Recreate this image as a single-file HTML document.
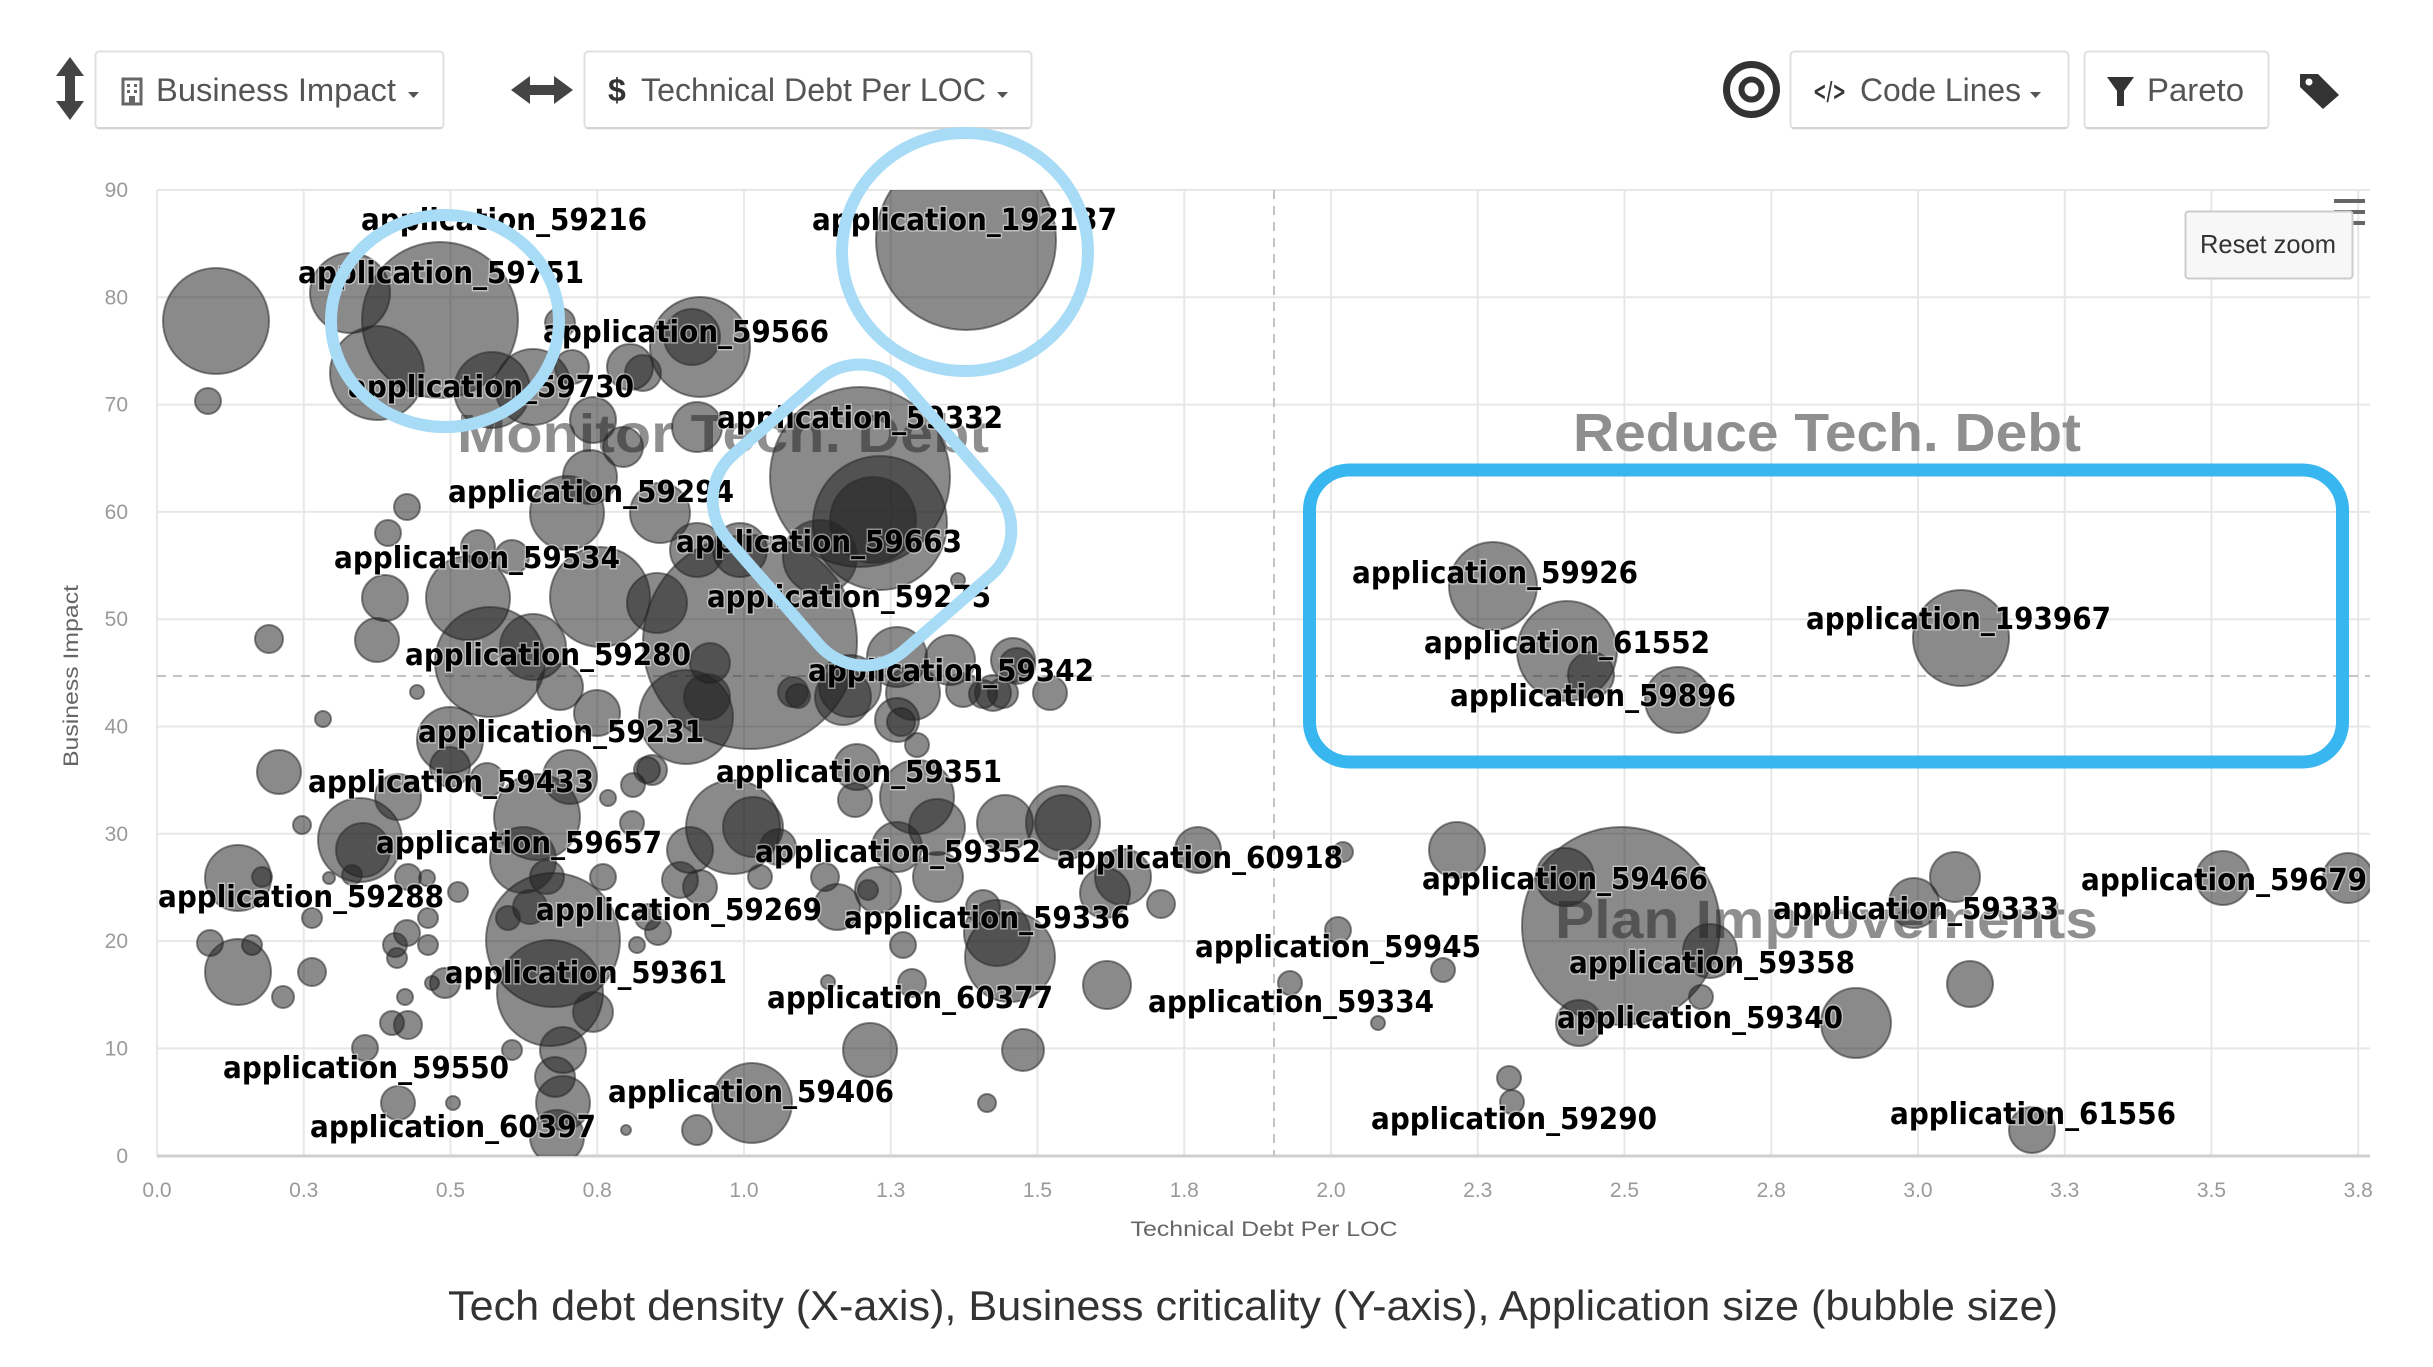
<!DOCTYPE html>
<html>
<head>
<meta charset="utf-8">
<style>
html,body{margin:0;padding:0;background:#fff;}
svg{display:block;}
.lbl{font-family:"DejaVu Sans","Liberation Sans",sans-serif;font-weight:bold;font-size:30px;fill:#000;stroke:#fff;stroke-width:3px;stroke-opacity:0.45;paint-order:stroke;}
.tick{font-family:"Liberation Sans Narrow","Liberation Sans",sans-serif;font-size:21px;fill:#9a9a9a;}
.btn{fill:#fff;stroke:#e0e0e0;stroke-width:2;}
.btxt{font-family:"Liberation Sans",sans-serif;font-size:32px;fill:#555;}
.wm{font-family:"Liberation Sans",sans-serif;font-weight:bold;font-size:54px;fill:#8f8f8f;}
</style>
</head>
<body>
<svg width="2433" height="1367" viewBox="0 0 2433 1367" xmlns="http://www.w3.org/2000/svg">
<rect x="0" y="0" width="2433" height="1367" fill="#fff"/>

<!-- ===== Toolbar ===== -->
<g fill="#444">
  <rect x="65" y="70" width="10" height="38"/>
  <polygon points="70,57 56,76 84,76"/>
  <polygon points="70,120 56,101 84,101"/>
</g>
<rect class="btn" x="95.5" y="51.5" width="348" height="77" rx="4"/>
<line x1="97" y1="128" x2="442" y2="128" stroke="#d4d4d4" stroke-width="2"/>
<g>
  <rect x="123" y="79" width="18" height="25" fill="none" stroke="#666" stroke-width="3"/>
  <rect x="127" y="84" width="3" height="3" fill="#666"/><rect x="134" y="84" width="3" height="3" fill="#666"/>
  <rect x="127" y="90" width="3" height="3" fill="#666"/><rect x="134" y="90" width="3" height="3" fill="#666"/>
  <rect x="129" y="96" width="6" height="8" fill="#666"/>
</g>
<text class="btxt" x="156" y="101" textLength="240" lengthAdjust="spacingAndGlyphs">Business Impact</text>
<polygon points="408,92 419,92 413.5,98" fill="#555"/>

<g fill="#444">
  <rect x="526" y="85" width="32" height="10"/>
  <polygon points="511,90 530,76 530,104"/>
  <polygon points="573,90 554,76 554,104"/>
</g>
<rect class="btn" x="584.5" y="51.5" width="447" height="77" rx="4"/>
<line x1="586" y1="128" x2="1030" y2="128" stroke="#d4d4d4" stroke-width="2"/>
<text x="608" y="101" font-family="Liberation Sans,sans-serif" font-weight="bold" font-size="32" fill="#333">$</text>
<text class="btxt" x="641" y="101" textLength="345" lengthAdjust="spacingAndGlyphs">Technical Debt Per LOC</text>
<polygon points="997,92 1008,92 1002.5,98" fill="#555"/>

<circle cx="1751.5" cy="89.5" r="25" fill="none" stroke="#333" stroke-width="7"/>
<circle cx="1751.5" cy="89.5" r="10" fill="none" stroke="#333" stroke-width="6"/>

<rect class="btn" x="1790.5" y="51.5" width="278" height="77" rx="4"/>
<line x1="1792" y1="128" x2="2067" y2="128" stroke="#d4d4d4" stroke-width="2"/>
<text x="1813" y="100" font-family="DejaVu Sans,sans-serif" font-weight="bold" font-size="26" fill="#333" textLength="33" lengthAdjust="spacingAndGlyphs">&lt;/&gt;</text>
<text class="btxt" x="1860" y="101" textLength="161" lengthAdjust="spacingAndGlyphs">Code Lines</text>
<polygon points="2030,92 2041,92 2035.5,98" fill="#555"/>

<rect class="btn" x="2084.5" y="51.5" width="184" height="77" rx="4"/>
<line x1="2086" y1="128" x2="2267" y2="128" stroke="#d4d4d4" stroke-width="2"/>
<polygon points="2107,77 2134,77 2124,91 2124,106 2117,106 2117,91" fill="#333"/>
<text class="btxt" x="2147" y="101" textLength="97" lengthAdjust="spacingAndGlyphs">Pareto</text>

<path d="M2300,74 L2318,74 L2339,95 L2323,109 L2300,87 Z" fill="#333"/>
<circle cx="2309" cy="82" r="3.5" fill="#fff"/>

<!-- ===== Plot grid ===== -->
<g stroke="#e7e7e7" stroke-width="2">
  <line x1="157" y1="190" x2="157" y2="1156"/>
  <line x1="303.75" y1="190" x2="303.75" y2="1156"/>
  <line x1="450.5" y1="190" x2="450.5" y2="1156"/>
  <line x1="597.25" y1="190" x2="597.25" y2="1156"/>
  <line x1="744" y1="190" x2="744" y2="1156"/>
  <line x1="890.75" y1="190" x2="890.75" y2="1156"/>
  <line x1="1037.5" y1="190" x2="1037.5" y2="1156"/>
  <line x1="1184.25" y1="190" x2="1184.25" y2="1156"/>
  <line x1="1331" y1="190" x2="1331" y2="1156"/>
  <line x1="1477.75" y1="190" x2="1477.75" y2="1156"/>
  <line x1="1624.5" y1="190" x2="1624.5" y2="1156"/>
  <line x1="1771.25" y1="190" x2="1771.25" y2="1156"/>
  <line x1="1918" y1="190" x2="1918" y2="1156"/>
  <line x1="2064.75" y1="190" x2="2064.75" y2="1156"/>
  <line x1="2211.5" y1="190" x2="2211.5" y2="1156"/>
  <line x1="2358.25" y1="190" x2="2358.25" y2="1156"/>
  <line x1="157" y1="190" x2="2370" y2="190"/>
  <line x1="157" y1="297.3" x2="2370" y2="297.3"/>
  <line x1="157" y1="404.6" x2="2370" y2="404.6"/>
  <line x1="157" y1="511.9" x2="2370" y2="511.9"/>
  <line x1="157" y1="619.2" x2="2370" y2="619.2"/>
  <line x1="157" y1="726.5" x2="2370" y2="726.5"/>
  <line x1="157" y1="833.8" x2="2370" y2="833.8"/>
  <line x1="157" y1="941.1" x2="2370" y2="941.1"/>
  <line x1="157" y1="1048.4" x2="2370" y2="1048.4"/>
</g>
<line x1="157" y1="1156" x2="2370" y2="1156" stroke="#cfcfcf" stroke-width="3"/>

<g stroke="#c4c4c4" stroke-width="2" stroke-dasharray="9,7">
  <line x1="1274" y1="190" x2="1274" y2="1156"/>
  <line x1="157" y1="676" x2="2370" y2="676"/>
</g>

<g class="tick" text-anchor="middle">
  <text x="157" y="1197">0.0</text>
  <text x="303.75" y="1197">0.3</text>
  <text x="450.5" y="1197">0.5</text>
  <text x="597.25" y="1197">0.8</text>
  <text x="744" y="1197">1.0</text>
  <text x="890.75" y="1197">1.3</text>
  <text x="1037.5" y="1197">1.5</text>
  <text x="1184.25" y="1197">1.8</text>
  <text x="1331" y="1197">2.0</text>
  <text x="1477.75" y="1197">2.3</text>
  <text x="1624.5" y="1197">2.5</text>
  <text x="1771.25" y="1197">2.8</text>
  <text x="1918" y="1197">3.0</text>
  <text x="2064.75" y="1197">3.3</text>
  <text x="2211.5" y="1197">3.5</text>
  <text x="2358.25" y="1197">3.8</text>
</g>
<g class="tick" text-anchor="end">
  <text x="128" y="1163">0</text>
  <text x="128" y="1055.4">10</text>
  <text x="128" y="948.1">20</text>
  <text x="128" y="840.8">30</text>
  <text x="128" y="733.5">40</text>
  <text x="128" y="626.2">50</text>
  <text x="128" y="518.9">60</text>
  <text x="128" y="411.6">70</text>
  <text x="128" y="304.3">80</text>
  <text x="128" y="197">90</text>
</g>
<text transform="translate(78,676) rotate(-90)" text-anchor="middle" font-family="Liberation Sans,sans-serif" font-size="21" fill="#666" textLength="182" lengthAdjust="spacingAndGlyphs">Business Impact</text>
<text x="1264" y="1236" text-anchor="middle" font-family="Liberation Sans,sans-serif" font-size="21" fill="#666" textLength="267" lengthAdjust="spacingAndGlyphs">Technical Debt Per LOC</text>

<text class="wm" x="457" y="452" textLength="532" lengthAdjust="spacingAndGlyphs">Monitor Tech. Debt</text>
<text class="wm" x="1573" y="451" textLength="508" lengthAdjust="spacingAndGlyphs">Reduce Tech. Debt</text>
<text class="wm" x="1555" y="938" textLength="543" lengthAdjust="spacingAndGlyphs">Plan Improvements</text>

<!-- ===== Bubbles ===== -->
<defs><clipPath id="pc"><rect x="157" y="190" width="2213" height="966"/></clipPath></defs>
<g clip-path="url(#pc)" fill="#1e1e1e" fill-opacity="0.52" stroke="#2a2a2a" stroke-opacity="0.55" stroke-width="2">
<circle cx="216" cy="321" r="53"/>
<circle cx="208" cy="401" r="13"/>
<circle cx="350" cy="293" r="40"/>
<circle cx="440" cy="320" r="78"/>
<circle cx="377" cy="373" r="47"/>
<circle cx="492" cy="390" r="38"/>
<circle cx="533" cy="387" r="38"/>
<circle cx="560" cy="323" r="15"/>
<circle cx="572" cy="367" r="17"/>
<circle cx="630" cy="367" r="23"/>
<circle cx="593" cy="420" r="23"/>
<circle cx="623" cy="447" r="20"/>
<circle cx="700" cy="347" r="50"/>
<circle cx="692" cy="337" r="28"/>
<circle cx="643" cy="373" r="18"/>
<circle cx="697" cy="427" r="25"/>
<circle cx="966" cy="240" r="90"/>
<circle cx="860" cy="477" r="90"/>
<circle cx="880" cy="523" r="67"/>
<circle cx="873" cy="520" r="43"/>
<circle cx="820" cy="557" r="37"/>
<circle cx="740" cy="550" r="27"/>
<circle cx="750" cy="642" r="107"/>
<circle cx="897" cy="657" r="30"/>
<circle cx="950" cy="660" r="25"/>
<circle cx="1013" cy="660" r="22"/>
<circle cx="958" cy="580" r="7"/>
<circle cx="660" cy="513" r="30"/>
<circle cx="697" cy="550" r="27"/>
<circle cx="657" cy="603" r="30"/>
<circle cx="710" cy="663" r="20"/>
<circle cx="407" cy="507" r="13"/>
<circle cx="388" cy="533" r="13"/>
<circle cx="478" cy="547" r="17"/>
<circle cx="512" cy="557" r="17"/>
<circle cx="385" cy="598" r="23"/>
<circle cx="468" cy="598" r="42"/>
<circle cx="377" cy="640" r="22"/>
<circle cx="269" cy="639" r="14"/>
<circle cx="590" cy="477" r="27"/>
<circle cx="567" cy="513" r="37"/>
<circle cx="600" cy="597" r="50"/>
<circle cx="490" cy="662" r="55"/>
<circle cx="533" cy="647" r="33"/>
<circle cx="686" cy="717" r="47"/>
<circle cx="798" cy="696" r="12"/>
<circle cx="850" cy="686" r="31"/>
<circle cx="901" cy="722" r="14"/>
<circle cx="983" cy="694" r="14"/>
<circle cx="1017" cy="666" r="18"/>
<circle cx="1050" cy="693" r="17"/>
<circle cx="1003" cy="693" r="15"/>
<circle cx="417" cy="692" r="7"/>
<circle cx="323" cy="719" r="8"/>
<circle cx="279" cy="772" r="22"/>
<circle cx="302" cy="825" r="9"/>
<circle cx="360" cy="840" r="42"/>
<circle cx="363" cy="850" r="27"/>
<circle cx="398" cy="797" r="23"/>
<circle cx="238" cy="878" r="33"/>
<circle cx="262" cy="877" r="10"/>
<circle cx="329" cy="878" r="6"/>
<circle cx="352" cy="875" r="10"/>
<circle cx="408" cy="877" r="13"/>
<circle cx="427" cy="878" r="8"/>
<circle cx="458" cy="892" r="10"/>
<circle cx="312" cy="918" r="10"/>
<circle cx="428" cy="918" r="10"/>
<circle cx="407" cy="933" r="13"/>
<circle cx="395" cy="945" r="12"/>
<circle cx="428" cy="945" r="10"/>
<circle cx="397" cy="958" r="10"/>
<circle cx="210" cy="943" r="13"/>
<circle cx="252" cy="945" r="10"/>
<circle cx="238" cy="972" r="33"/>
<circle cx="312" cy="972" r="14"/>
<circle cx="283" cy="997" r="11"/>
<circle cx="405" cy="997" r="8"/>
<circle cx="432" cy="983" r="7"/>
<circle cx="445" cy="983" r="15"/>
<circle cx="392" cy="1023" r="12"/>
<circle cx="408" cy="1025" r="14"/>
<circle cx="365" cy="1048" r="13"/>
<circle cx="512" cy="1050" r="10"/>
<circle cx="398" cy="1103" r="17"/>
<circle cx="453" cy="1103" r="7"/>
<circle cx="626" cy="1130" r="5"/>
<circle cx="553" cy="940" r="67"/>
<circle cx="550" cy="993" r="53"/>
<circle cx="563" cy="1050" r="23"/>
<circle cx="555" cy="1077" r="20"/>
<circle cx="563" cy="1103" r="27"/>
<circle cx="557" cy="1137" r="27"/>
<circle cx="593" cy="1012" r="20"/>
<circle cx="530" cy="907" r="17"/>
<circle cx="508" cy="918" r="12"/>
<circle cx="547" cy="877" r="17"/>
<circle cx="603" cy="877" r="13"/>
<circle cx="560" cy="687" r="23"/>
<circle cx="597" cy="713" r="23"/>
<circle cx="450" cy="740" r="33"/>
<circle cx="450" cy="767" r="20"/>
<circle cx="487" cy="780" r="17"/>
<circle cx="537" cy="817" r="43"/>
<circle cx="570" cy="777" r="27"/>
<circle cx="523" cy="860" r="33"/>
<circle cx="608" cy="798" r="8"/>
<circle cx="633" cy="785" r="12"/>
<circle cx="632" cy="823" r="12"/>
<circle cx="647" cy="770" r="13"/>
<circle cx="637" cy="945" r="8"/>
<circle cx="707" cy="697" r="23"/>
<circle cx="793" cy="692" r="15"/>
<circle cx="843" cy="697" r="28"/>
<circle cx="897" cy="720" r="22"/>
<circle cx="917" cy="745" r="12"/>
<circle cx="913" cy="693" r="27"/>
<circle cx="993" cy="693" r="18"/>
<circle cx="963" cy="690" r="17"/>
<circle cx="652" cy="770" r="15"/>
<circle cx="857" cy="767" r="23"/>
<circle cx="855" cy="800" r="17"/>
<circle cx="917" cy="797" r="37"/>
<circle cx="937" cy="827" r="28"/>
<circle cx="733" cy="827" r="47"/>
<circle cx="753" cy="827" r="30"/>
<circle cx="690" cy="850" r="23"/>
<circle cx="778" cy="847" r="18"/>
<circle cx="760" cy="877" r="12"/>
<circle cx="1005" cy="823" r="28"/>
<circle cx="1063" cy="823" r="37"/>
<circle cx="1063" cy="823" r="28"/>
<circle cx="897" cy="847" r="25"/>
<circle cx="938" cy="877" r="25"/>
<circle cx="878" cy="890" r="23"/>
<circle cx="868" cy="890" r="10"/>
<circle cx="825" cy="877" r="14"/>
<circle cx="837" cy="907" r="23"/>
<circle cx="983" cy="907" r="17"/>
<circle cx="1010" cy="957" r="45"/>
<circle cx="997" cy="933" r="33"/>
<circle cx="903" cy="945" r="13"/>
<circle cx="1107" cy="985" r="24"/>
<circle cx="1105" cy="893" r="25"/>
<circle cx="912" cy="983" r="14"/>
<circle cx="828" cy="982" r="7"/>
<circle cx="870" cy="1050" r="27"/>
<circle cx="1023" cy="1050" r="21"/>
<circle cx="987" cy="1103" r="9"/>
<circle cx="752" cy="1103" r="40"/>
<circle cx="697" cy="1130" r="15"/>
<circle cx="648" cy="917" r="13"/>
<circle cx="658" cy="932" r="13"/>
<circle cx="680" cy="880" r="18"/>
<circle cx="700" cy="887" r="17"/>
<circle cx="1123" cy="877" r="28"/>
<circle cx="1161" cy="904" r="14"/>
<circle cx="1198" cy="850" r="23"/>
<circle cx="1343" cy="852" r="10"/>
<circle cx="1457" cy="850" r="28"/>
<circle cx="1338" cy="930" r="13"/>
<circle cx="1290" cy="983" r="12"/>
<circle cx="1443" cy="970" r="12"/>
<circle cx="1378" cy="1023" r="7"/>
<circle cx="1565" cy="877" r="29"/>
<circle cx="1621" cy="926" r="99"/>
<circle cx="1710" cy="951" r="27"/>
<circle cx="1701" cy="997" r="12"/>
<circle cx="1579" cy="1023" r="23"/>
<circle cx="1856" cy="1023" r="35"/>
<circle cx="1509" cy="1078" r="12"/>
<circle cx="1512" cy="1102" r="12"/>
<circle cx="1914" cy="903" r="25"/>
<circle cx="1955" cy="877" r="25"/>
<circle cx="1970" cy="984" r="23"/>
<circle cx="2223" cy="878" r="27"/>
<circle cx="2348" cy="878" r="25"/>
<circle cx="2032" cy="1130" r="23"/>
<circle cx="1493" cy="586" r="44"/>
<circle cx="1567" cy="651" r="50"/>
<circle cx="1591" cy="675" r="23"/>
<circle cx="1678" cy="700" r="33"/>
<circle cx="1961" cy="638" r="48"/>
</g>

<!-- ===== Data labels ===== -->
<g class="lbl">
<text x="361" y="230" textLength="286" lengthAdjust="spacingAndGlyphs">application_59216</text>
<text x="298" y="283" textLength="286" lengthAdjust="spacingAndGlyphs">application_59751</text>
<text x="543" y="342" textLength="286" lengthAdjust="spacingAndGlyphs">application_59566</text>
<text x="348" y="397" textLength="286" lengthAdjust="spacingAndGlyphs">application_59730</text>
<text x="812" y="230" textLength="305" lengthAdjust="spacingAndGlyphs">application_192137</text>
<text x="717" y="428" textLength="286" lengthAdjust="spacingAndGlyphs">application_59332</text>
<text x="448" y="502" textLength="286" lengthAdjust="spacingAndGlyphs">application_59294</text>
<text x="334" y="568" textLength="286" lengthAdjust="spacingAndGlyphs">application_59534</text>
<text x="676" y="552" textLength="286" lengthAdjust="spacingAndGlyphs">application_59663</text>
<text x="707" y="607" textLength="284" lengthAdjust="spacingAndGlyphs">application_59275</text>
<text x="405" y="665" textLength="286" lengthAdjust="spacingAndGlyphs">application_59280</text>
<text x="808" y="681" textLength="286" lengthAdjust="spacingAndGlyphs">application_59342</text>
<text x="418" y="742" textLength="286" lengthAdjust="spacingAndGlyphs">application_59231</text>
<text x="308" y="792" textLength="286" lengthAdjust="spacingAndGlyphs">application_59433</text>
<text x="716" y="782" textLength="286" lengthAdjust="spacingAndGlyphs">application_59351</text>
<text x="376" y="853" textLength="286" lengthAdjust="spacingAndGlyphs">application_59657</text>
<text x="755" y="862" textLength="286" lengthAdjust="spacingAndGlyphs">application_59352</text>
<text x="1057" y="868" textLength="286" lengthAdjust="spacingAndGlyphs">application_60918</text>
<text x="158" y="907" textLength="286" lengthAdjust="spacingAndGlyphs">application_59288</text>
<text x="536" y="920" textLength="286" lengthAdjust="spacingAndGlyphs">application_59269</text>
<text x="844" y="928" textLength="286" lengthAdjust="spacingAndGlyphs">application_59336</text>
<text x="445" y="983" textLength="282" lengthAdjust="spacingAndGlyphs">application_59361</text>
<text x="767" y="1008" textLength="286" lengthAdjust="spacingAndGlyphs">application_60377</text>
<text x="223" y="1078" textLength="286" lengthAdjust="spacingAndGlyphs">application_59550</text>
<text x="608" y="1102" textLength="286" lengthAdjust="spacingAndGlyphs">application_59406</text>
<text x="310" y="1137" textLength="286" lengthAdjust="spacingAndGlyphs">application_60397</text>
<text x="1422" y="889" textLength="286" lengthAdjust="spacingAndGlyphs">application_59466</text>
<text x="1195" y="957" textLength="286" lengthAdjust="spacingAndGlyphs">application_59945</text>
<text x="1148" y="1012" textLength="286" lengthAdjust="spacingAndGlyphs">application_59334</text>
<text x="1371" y="1129" textLength="286" lengthAdjust="spacingAndGlyphs">application_59290</text>
<text x="1569" y="973" textLength="286" lengthAdjust="spacingAndGlyphs">application_59358</text>
<text x="1557" y="1028" textLength="286" lengthAdjust="spacingAndGlyphs">application_59340</text>
<text x="1773" y="919" textLength="286" lengthAdjust="spacingAndGlyphs">application_59333</text>
<text x="2081" y="890" textLength="286" lengthAdjust="spacingAndGlyphs">application_59679</text>
<text x="1890" y="1124" textLength="286" lengthAdjust="spacingAndGlyphs">application_61556</text>
<text x="1352" y="583" textLength="286" lengthAdjust="spacingAndGlyphs">application_59926</text>
<text x="1424" y="653" textLength="286" lengthAdjust="spacingAndGlyphs">application_61552</text>
<text x="1806" y="629" textLength="305" lengthAdjust="spacingAndGlyphs">application_193967</text>
<text x="1450" y="706" textLength="286" lengthAdjust="spacingAndGlyphs">application_59896</text>
</g>

<g stroke="#666" stroke-width="4">
  <line x1="2334" y1="201" x2="2365" y2="201"/>
  <line x1="2334" y1="212" x2="2365" y2="212"/>
  <line x1="2334" y1="223" x2="2365" y2="223"/>
</g>
<rect x="2185.5" y="211.5" width="167" height="67" rx="3" fill="#f7f7f7" stroke="#cccccc" stroke-width="2"/>
<text x="2200" y="253" font-family="Liberation Sans,sans-serif" font-size="26" fill="#333" textLength="136" lengthAdjust="spacingAndGlyphs">Reset zoom</text>

<!-- ===== Highlights ===== -->
<ellipse cx="445" cy="321" rx="114" ry="106" fill="none" stroke="#a8dcf6" stroke-width="12"/>
<ellipse cx="965" cy="252" rx="123" ry="119" fill="none" stroke="#a8dcf6" stroke-width="12"/>
<rect x="-130" y="-117.5" width="260" height="235" rx="60" transform="translate(862,515) rotate(49)" fill="none" stroke="#a8dcf6" stroke-width="12"/>
<rect x="1309.5" y="470" width="1033" height="292" rx="40" fill="none" stroke="#38b6ef" stroke-width="13"/>

<text x="448" y="1320" font-family="Liberation Sans,Arial,sans-serif" font-size="42" fill="#333" textLength="1610" lengthAdjust="spacingAndGlyphs">Tech debt density (X-axis), Business criticality (Y-axis), Application size (bubble size)</text>
</svg>
</body>
</html>
